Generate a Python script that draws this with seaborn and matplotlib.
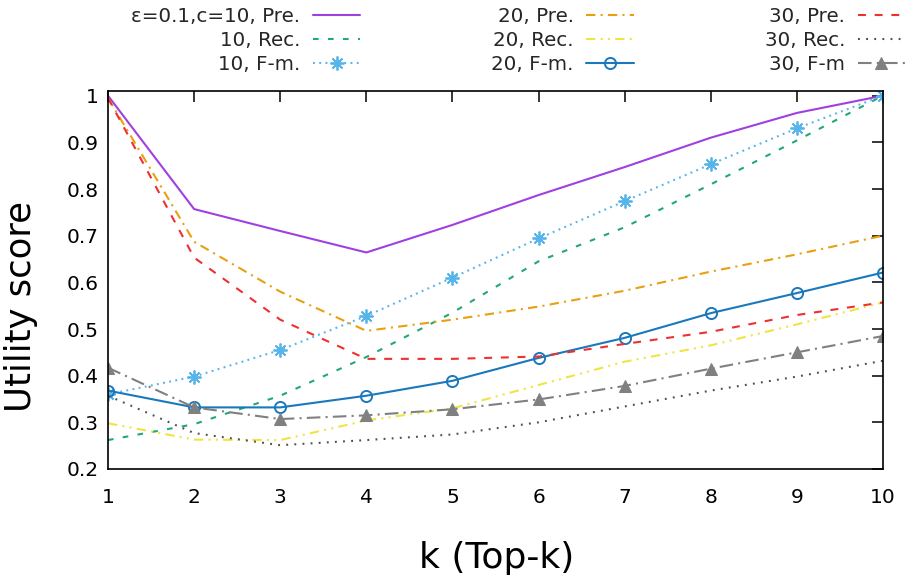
import matplotlib
matplotlib.use("Agg")
import matplotlib.pyplot as plt
import seaborn as sns
import numpy as np

# ---- data ----
k_values = [1, 2, 3, 4, 5, 6, 7, 8, 9, 10]
pre10 = [1.0, 0.757, 0.71, 0.664, 0.723, 0.787, 0.847, 0.91, 0.963, 1.0]
rec10 = [0.262, 0.296, 0.357, 0.44, 0.535, 0.645, 0.718, 0.81, 0.904, 1.0]
fm10 = [0.36, 0.398, 0.455, 0.528, 0.61, 0.694, 0.774, 0.853, 0.93, 1.0]
pre20 = [0.995, 0.687, 0.58, 0.496, 0.52, 0.548, 0.582, 0.623, 0.66, 0.70]
rec20 = [0.298, 0.263, 0.262, 0.304, 0.33, 0.38, 0.43, 0.465, 0.51, 0.557]
fm20 = [0.368, 0.332, 0.332, 0.357, 0.389, 0.438, 0.481, 0.534, 0.577, 0.621]
pre30 = [0.995, 0.653, 0.52, 0.436, 0.436, 0.441, 0.468, 0.494, 0.53, 0.557]
rec30 = [0.357, 0.277, 0.251, 0.262, 0.274, 0.30, 0.334, 0.368, 0.398, 0.432]
fm30 = [0.417, 0.332, 0.307, 0.315, 0.328, 0.349, 0.378, 0.415, 0.45, 0.485]

labels = ["ε=0.1,c=10, Pre.", "10, Rec.", "10, F-m.",
          "20, Pre.", "20, Rec.", "20, F-m.",
          "30, Pre.", "30, Rec.", "30, F-m"]
series = [pre10, rec10, fm10, pre20, rec20, fm20, pre30, rec30, fm30]
y_ticks = [0.2, 0.3, 0.4, 0.5, 0.6, 0.7, 0.8, 0.9, 1.0]
y_ticklabels = ["0.2", "0.3", "0.4", "0.5", "0.6", "0.7", "0.8", "0.9", "1"]

# ---- styles ----
colors = ["#a040e0", "#20a878", "#56b4e9", "#e8a010", "#f0e442",
          "#1a78bc", "#ee3030", "#505050", "#808080"]
styles = [
    dict(linestyle="-"),
    dict(linestyle=(0, (2.7, 4.5))),
    dict(linestyle=(0, (0.9, 2.1)), marker=(8, 2, 0), markersize=10, markeredgewidth=1.3),
    dict(linestyle=(0, (4.5, 2.5, 1, 2.5))),
    dict(linestyle=(0, (4.5, 2.5, 1, 2.5, 1, 2.5))),
    dict(linestyle="-", marker="o", markersize=8, markerfacecolor="none", markeredgewidth=1.4),
    dict(linestyle=(0, (3.8, 4.2))),
    dict(linestyle=(0, (0.9, 3))),
    dict(linestyle=(0, (6.5, 2.5, 1, 2.5)), marker="^", markersize=8),
]

sns.set_style("white")
plt.rcParams["font.family"] = ["DejaVu Sans"]

fig = plt.figure(figsize=(9.09, 5.85), dpi=100)
ax = fig.add_axes([108 / 909, 1 - 469 / 585, (883 - 108) / 909, (469 - 91) / 585])

for vals, lab, col, st in zip(series, labels, colors, styles):
    kw = dict(st)
    if "marker" in kw:
        kw["markeredgecolor"] = col
        if kw.get("markerfacecolor") != "none":
            kw["markerfacecolor"] = col
    sns.lineplot(x=k_values, y=vals, ax=ax, color=col, label=lab,
                 linewidth=1.5, legend=False, **kw)

ax.set_xlim(1, 10)
ax.set_ylim(0.2, 1.01)
ax.set_xticks(k_values)
ax.set_xticklabels([str(v) for v in k_values])
ax.set_yticks(y_ticks)
ax.set_yticklabels(y_ticklabels)
ax.tick_params(axis="both", direction="in", length=8, width=1.1, color="black",
               top=True, right=True, labelsize=14.5, labelcolor="black")
ax.tick_params(axis="x", pad=14)
ax.tick_params(axis="y", pad=7)
for sp in ax.spines.values():
    sp.set_color("black")
    sp.set_linewidth(1.2)
    sp.set_visible(True)

fig.text(21 / 909, 1 - 307 / 585, "Utility score", rotation=90, fontsize=25.5,
         ha="center", va="center", color="black")
fig.text(497 / 909, 1 - 558 / 585, "k (Top-k)", fontsize=26,
         ha="center", va="center", color="black")

handles, labs = ax.get_legend_handles_labels()
fig.legend(handles, labs, ncol=3, loc="upper right",
           bbox_to_anchor=(906 / 909, 1 - 6 / 585), frameon=False, markerfirst=False,
           fontsize=14.3, handlelength=2.37, handletextpad=0.65,
           columnspacing=6.6, labelspacing=0.24, borderpad=0.05,
           borderaxespad=0.0)

fig.savefig("out.png", dpi=100)
